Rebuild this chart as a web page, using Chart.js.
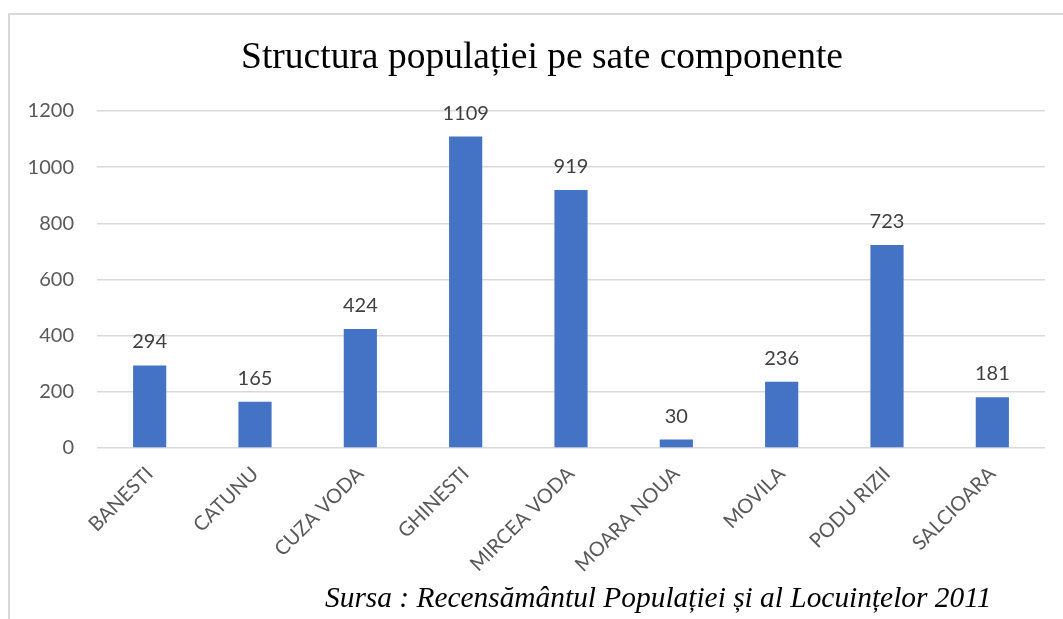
<!DOCTYPE html>
<html>
<head>
<meta charset="utf-8">
<script src="https://cdn.jsdelivr.net/npm/chart.js@4.4.1/dist/chart.umd.min.js"></script>
<style>
  html, body { margin: 0; padding: 0; background: #fff; }
  #wrap { width: 1063px; height: 619px; position: relative; }
</style>
</head>
<body>
<div id="wrap"><canvas id="populatieChart"></canvas></div>
<script>
const sate = [
  "BANESTI",
  "CATUNU",
  "CUZA VODA",
  "GHINESTI",
  "MIRCEA VODA",
  "MOARA NOUA",
  "MOVILA",
  "PODU RIZII",
  "SALCIOARA",
];
const populatie = [294, 165, 424, 1109, 919, 30, 236, 723, 181];
const yTicks = [0, 200, 400, 600, 800, 1000, 1200];

const titlu = "Structura populației pe sate componente";
const sursa = "Sursa : Recensământul Populației și al Locuințelor 2011";

// frame, title and source line, drawn on the canvas
const framePlugin = {
  id: "frame",
  beforeDraw: (chart) => {
    const ctx = chart.ctx;
    ctx.save();
    ctx.strokeStyle = "#d9d9d9";
    ctx.lineWidth = 2;
    ctx.beginPath();
    ctx.moveTo(1063, 14);
    ctx.lineTo(9, 14);
    ctx.lineTo(9, 619);
    ctx.stroke();
    ctx.restore();
  },
  afterDraw: (chart) => {
    const ctx = chart.ctx;
    ctx.save();
    ctx.fillStyle = "#000";
    ctx.textBaseline = "alphabetic";
    ctx.font = "37.5px 'Liberation Serif', 'Times New Roman', serif";
    ctx.textAlign = "center";
    ctx.fillText(titlu, 542, 68);
    ctx.font = "italic 29.4px 'Liberation Serif', 'Times New Roman', serif";
    ctx.textAlign = "left";
    ctx.fillText(sursa, 325, 607);
    ctx.restore();
  },
};

// value above each bar
const valueLabels = {
  id: "valueLabels",
  afterDatasetsDraw: (chart) => {
    const ctx = chart.ctx;
    const meta = chart.getDatasetMeta(0);
    ctx.save();
    ctx.fillStyle = "#404040";
    ctx.font = "20px Lato, 'Open Sans', sans-serif";
    ctx.textAlign = "center";
    ctx.textBaseline = "alphabetic";
    meta.data.forEach((bar, i) => {
      ctx.fillText(String(populatie[i]), bar.x, bar.y - 17);
    });
    ctx.restore();
  },
};

const data = {
  labels: sate,
  datasets: [
    {
      label: "Populatie",
      data: populatie,
      backgroundColor: "#4472C4",
      borderWidth: 0,
      categoryPercentage: 1,
      barPercentage: 0.315,
    },
  ],
};

const config = {
  type: "bar",
  data: data,
  options: {
    responsive: false,
    animation: false,
    layout: {
      padding: { left: 10, right: 18, top: 111, bottom: 0 },
    },
    plugins: {
      legend: { display: false },
      tooltip: { enabled: false },
      title: { display: false },
    },
    scales: {
      x: {
        grid: { display: false },
        border: { display: false },
        ticks: {
          color: "#595959",
          font: { size: 20, family: "Lato, 'Open Sans', sans-serif" },
          minRotation: 45,
          maxRotation: 45,
          autoSkip: false,
          padding: 6,
        },
        afterFit: (scale) => {
          scale.height = 171;
        },
      },
      y: {
        min: 0,
        max: 1200,
        afterBuildTicks: (scale) => {
          scale.ticks = yTicks.map((v) => ({ value: v }));
        },
        grid: { color: "#d9d9d9", lineWidth: 1.5, drawTicks: false },
        border: { display: false },
        ticks: {
          color: "#595959",
          font: { size: 20, family: "Lato, 'Open Sans', sans-serif" },
          padding: 23,
          callback: (value) => String(value),
        },
        afterFit: (scale) => {
          scale.width = 87;
        },
      },
    },
  },
  plugins: [framePlugin, valueLabels],
};

const canvas = document.getElementById("populatieChart");
canvas.width = 1063;
canvas.height = 619;
new Chart(canvas, config);
</script>
</body>
</html>
